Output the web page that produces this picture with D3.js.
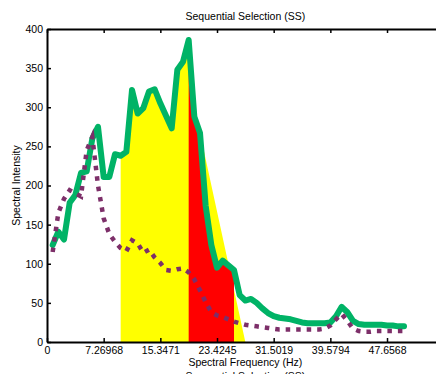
<!DOCTYPE html>
<html>
<head>
<meta charset="utf-8">
<script src="https://cdn.jsdelivr.net/npm/d3@7"></script>
<style>
  html, body { margin: 0; padding: 0; background: #fff; overflow: hidden; }
  svg { display: block; }
  text { font-family: "Liberation Sans", Arial, sans-serif; fill: #000; }
</style>
</head>
<body>
<svg id="chart" width="436" height="374"></svg>
<script>
// ---- data (x = bin index, 1-based) ----
const greenValues = [
  124, 141, 131, 178, 188, 216, 218, 260, 275, 211,
  211, 240, 238, 243, 322, 292, 299, 320, 323, 305,
  289, 273, 348, 358, 386, 288, 267, 174, 124, 95,
  104, 98, 92, 60, 53, 55, 50, 43, 37, 33,
  31, 30, 29, 27, 25, 24, 24, 24, 24, 25,
  33, 45, 38, 27, 23, 22, 22, 22, 22, 21,
  21, 20, 20
];
const purpleValues = [
  115, 165, 183, 194, 190, 186, 245, 262, 200, 158,
  138, 128, 120, 116, 130, 126, 114, 118, 108, 101,
  92, 91, 93, 94, 89, 80, 66, 51, 38, 34,
  32, 29, 26, 24, 22, 21, 20, 19, 18, 17,
  16, 16, 16, 16, 16, 16, 16, 16, 17, 21,
  29, 36, 27, 17, 14, 13, 13, 14, 14, 14,
  14, 14, 14
];
// selection regions (bin indices)
const yellowRange = [13, 27, 35];   // start, last traced bin, bottom-right bin
const redRange = [25, 33];          // start, end
// axis ticks
const xTickPositions = [0, 10, 20, 30, 40, 50, 60];
const xTickLabels = ["0", "7.26968", "15.3471", "23.4245", "31.5019", "39.5794", "47.6568"];
const yTickValues = [0, 50, 100, 150, 200, 250, 300, 350, 400];
const titleText = "Sequential Selection (SS)";
const xLabelText = "Spectral Frequency (Hz)";
const yLabelText = "Spectral Intensity";

// ---- layout ----
const svg = d3.select("#chart");
const mLeft = 47, mTop = 29, mBottom = 342;
const pxPerBin = 5.667;
const x = d3.scaleLinear().domain([0, 70]).range([mLeft, mLeft + 70 * pxPerBin]);
const y = d3.scaleLinear().domain([0, 400]).range([mBottom, mTop]);

const greenPts = greenValues.map((v, i) => [i + 1, v]);
const purplePts = purpleValues.map((v, i) => [i + 1, v]);

const lineGen = d3.line().x(d => x(d[0])).y(d => y(d[1]));

// yellow polygon
const yPoly = [[yellowRange[0], 0]]
  .concat(greenPts.filter(p => p[0] >= yellowRange[0] && p[0] <= yellowRange[1]))
  .concat([[yellowRange[2], 0]]);
svg.append("path").attr("d", lineGen(yPoly) + "Z").attr("fill", "#ffff00").attr("stroke", "none");

// red polygon
const rPoly = [[redRange[0], 0]]
  .concat(greenPts.filter(p => p[0] >= redRange[0] && p[0] <= redRange[1]))
  .concat([[redRange[1], 0]]);
svg.append("path").attr("d", lineGen(rPoly) + "Z").attr("fill", "#ff0000").attr("stroke", "none");

// green line
svg.append("path").attr("d", lineGen(greenPts))
  .attr("fill", "none").attr("stroke", "#00b366").attr("stroke-width", 6)
  .attr("stroke-linejoin", "round").attr("stroke-linecap", "round");

// purple dotted line
svg.append("path").attr("d", lineGen(purplePts))
  .attr("fill", "none").attr("stroke", "#7d2f69").attr("stroke-width", 4.5)
  .attr("stroke-dasharray", "4.5,6").attr("stroke-linecap", "butt");

// axes
const fs = "10.5px";
const xAxis = d3.axisBottom(x).tickValues(xTickPositions)
  .tickFormat((d, i) => xTickLabels[i]).tickSizeInner(-4).tickSizeOuter(0).tickPadding(5);
const gx = svg.append("g").attr("transform", `translate(0,${mBottom})`).call(xAxis);
const xTop = d3.axisTop(x).tickValues(xTickPositions).tickFormat("").tickSizeInner(-4).tickSizeOuter(0);
const gxt = svg.append("g").attr("transform", `translate(0,${mTop})`).call(xTop);
const yAxis = d3.axisLeft(y).tickValues(yTickValues).tickSizeInner(-4).tickSizeOuter(0).tickPadding(4);
const gy = svg.append("g").attr("transform", `translate(${mLeft},0)`).call(yAxis);

[gx, gxt, gy].forEach(g => {
  g.select(".domain").attr("stroke", "#000").attr("stroke-width", 2);
  g.selectAll(".tick line").attr("stroke", "#000").attr("stroke-width", 1.5);
  g.selectAll(".tick text").attr("font-size", fs)
    .attr("font-family", "'Liberation Sans', Arial, sans-serif").attr("fill", "#000");
});

// titles
const cx = (x.range()[0] + x.range()[1]) / 2;
svg.append("text").attr("x", cx).attr("y", 20).attr("text-anchor", "middle")
  .attr("font-size", fs).text(titleText);
svg.append("text").attr("x", cx).attr("y", 366).attr("text-anchor", "middle")
  .attr("font-size", fs).text(xLabelText);
svg.append("text").attr("x", cx).attr("y", 380).attr("text-anchor", "middle")
  .attr("font-size", fs).text(titleText);
svg.append("text").attr("transform", `translate(20,${(mTop + mBottom) / 2}) rotate(-90)`)
  .attr("text-anchor", "middle").attr("font-size", fs).text(yLabelText);
</script>
</body>
</html>
